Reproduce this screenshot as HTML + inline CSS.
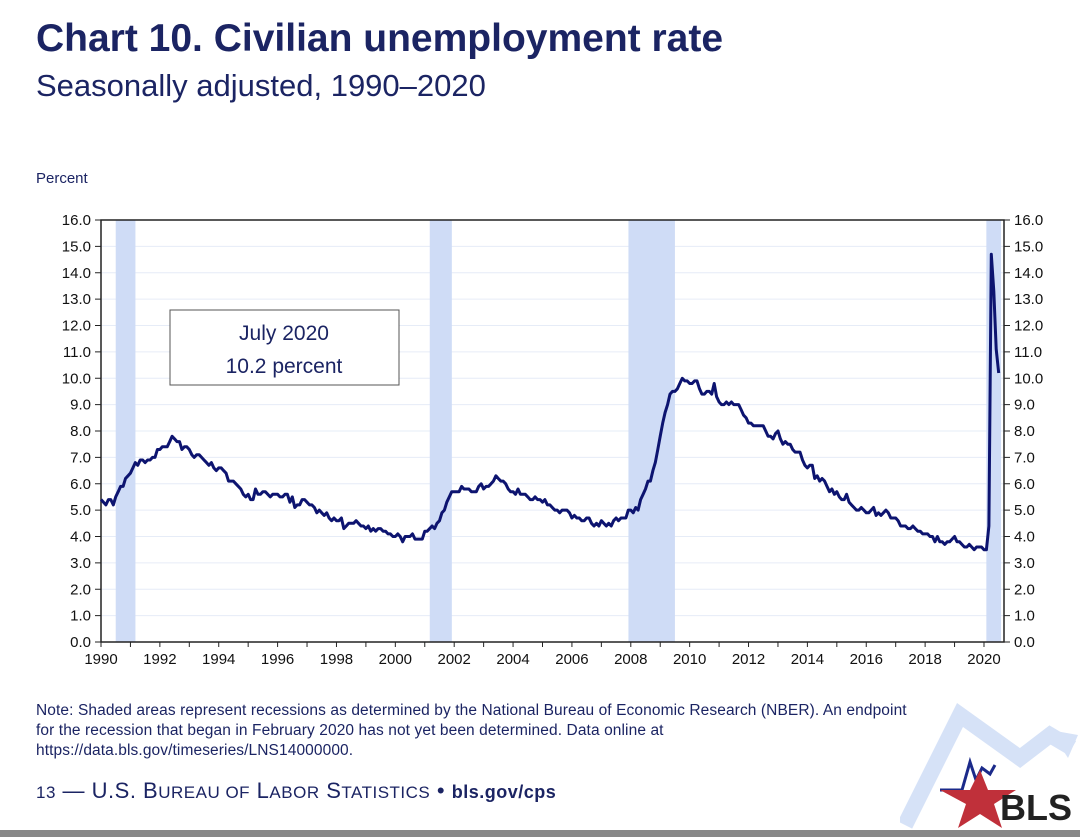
<!DOCTYPE html>
<html><head><meta charset="utf-8"><style>
body{margin:0;width:1080px;height:837px;background:#fff;overflow:hidden;font-family:"Liberation Sans","DejaVu Sans",sans-serif;position:relative}
.t{position:absolute;color:#1b2463;white-space:nowrap}
</style></head><body>
<svg width="180" height="140" style="position:absolute;left:900px;top:690px;overflow:hidden">
<polyline points="5,135 60,25 120,68 150,45 172,58" fill="none" stroke="#d6e2f7" stroke-width="16"/>
<polygon points="150,40 178,45 168,68" fill="#d6e2f7"/>
<polyline points="40,100 62,100 70,72 76,90 82,78 90,84 95,75" fill="none" stroke="#1b2a8a" stroke-width="3"/>
<polygon points="40,100 70,100 80,80 88,100 116,100 94,114 102,138 80,124 58,138 66,114" fill="#c0303a"/>
<text x="100" y="130" font-size="36" font-weight="bold" fill="#222" font-family="Liberation Sans,sans-serif">BLS</text>
</svg>
<div class="t" style="left:36px;top:17px;font-size:39px;font-weight:bold">Chart 10. Civilian unemployment rate</div>
<div class="t" style="left:36px;top:68px;font-size:31px">Seasonally adjusted, 1990–2020</div>
<div class="t" style="left:36px;top:170px;font-size:15px">Percent</div>
<svg id="ch" width="1080" height="700" style="position:absolute;left:0;top:0"></svg>
<div class="t" style="left:36px;top:701px;font-size:15.5px;line-height:20px;letter-spacing:0.1px">Note: Shaded areas represent recessions as determined by the National Bureau of Economic Research (NBER). An endpoint<br>for the recession that began in February 2020 has not yet been determined. Data online at<br>https://data.bls.gov/timeseries/LNS14000000.</div>
<div class="t" style="left:36px;top:778px;font-size:22px;letter-spacing:0.5px"><span style="font-size:17px">13</span> — U.S. B<span style="font-size:17px">UREAU OF</span> L<span style="font-size:17px">ABOR</span> S<span style="font-size:17px">TATISTICS</span> • <b style="font-size:18px">bls.gov/cps</b></div>
<div style="position:absolute;left:0;top:830px;width:1080px;height:7px;background:#888"></div>
<script>
const years=[];for(let y=1990;y<=2020;y+=2)years.push(y);
const yTicks=[0,1,2,3,4,5,6,7,8,9,10,11,12,13,14,15,16];
const recessions=[[1990.5,1991.17],[2001.17,2001.92],[2007.92,2009.5],[2020.08,2020.58]];
const rate=[5.4,5.3,5.2,5.4,5.4,5.2,5.5,5.7,5.9,5.9,6.2,6.3,
6.4,6.6,6.8,6.7,6.9,6.9,6.8,6.9,6.9,7.0,7.0,7.3,
7.3,7.4,7.4,7.4,7.6,7.8,7.7,7.6,7.6,7.3,7.4,7.4,
7.3,7.1,7.0,7.1,7.1,7.0,6.9,6.8,6.7,6.8,6.6,6.5,
6.6,6.6,6.5,6.4,6.1,6.1,6.1,6.0,5.9,5.8,5.6,5.5,
5.6,5.4,5.4,5.8,5.6,5.6,5.7,5.7,5.6,5.5,5.6,5.6,
5.6,5.5,5.5,5.6,5.6,5.3,5.5,5.1,5.2,5.2,5.4,5.4,
5.3,5.2,5.2,5.1,4.9,5.0,4.9,4.8,4.9,4.7,4.6,4.7,
4.6,4.6,4.7,4.3,4.4,4.5,4.5,4.5,4.6,4.5,4.4,4.4,
4.3,4.4,4.2,4.3,4.2,4.3,4.3,4.2,4.2,4.1,4.1,4.0,
4.0,4.1,4.0,3.8,4.0,4.0,4.0,4.1,3.9,3.9,3.9,3.9,
4.2,4.2,4.3,4.4,4.3,4.5,4.6,4.9,5.0,5.3,5.5,5.7,
5.7,5.7,5.7,5.9,5.8,5.8,5.8,5.7,5.7,5.7,5.9,6.0,
5.8,5.9,5.9,6.0,6.1,6.3,6.2,6.1,6.1,6.0,5.8,5.7,
5.7,5.6,5.8,5.6,5.6,5.6,5.5,5.4,5.4,5.5,5.4,5.4,
5.3,5.4,5.2,5.2,5.1,5.0,5.0,4.9,5.0,5.0,5.0,4.9,
4.7,4.8,4.7,4.7,4.6,4.6,4.7,4.7,4.5,4.4,4.5,4.4,
4.6,4.5,4.4,4.5,4.4,4.6,4.7,4.6,4.7,4.7,4.7,5.0,
5.0,4.9,5.1,5.0,5.4,5.6,5.8,6.1,6.1,6.5,6.8,7.3,
7.8,8.3,8.7,9.0,9.4,9.5,9.5,9.6,9.8,10.0,9.9,9.9,
9.8,9.8,9.9,9.9,9.6,9.4,9.4,9.5,9.5,9.4,9.8,9.3,
9.1,9.0,9.0,9.1,9.0,9.1,9.0,9.0,9.0,8.8,8.6,8.5,
8.3,8.3,8.2,8.2,8.2,8.2,8.2,8.0,7.8,7.8,7.7,7.9,
8.0,7.7,7.5,7.6,7.5,7.5,7.3,7.2,7.2,7.2,6.9,6.7,
6.6,6.7,6.7,6.2,6.3,6.1,6.2,6.1,5.9,5.7,5.8,5.6,
5.7,5.5,5.4,5.4,5.6,5.3,5.2,5.1,5.0,5.0,5.1,5.0,
4.9,4.9,5.0,5.1,4.8,4.9,4.8,4.9,5.0,4.9,4.7,4.7,
4.7,4.6,4.4,4.4,4.4,4.3,4.3,4.4,4.3,4.2,4.2,4.1,
4.1,4.1,4.0,4.0,3.8,4.0,3.8,3.8,3.7,3.8,3.8,3.9,
4.0,3.8,3.8,3.7,3.6,3.6,3.7,3.6,3.5,3.6,3.6,3.6,
3.5,3.5,4.4,14.7,13.3,11.1,10.2];
const L=101,R=1004,T=220,B=642,X0=1990,X1=2020.68;
const xs=v=>L+(v-X0)/(X1-X0)*(R-L);
const ys=v=>B-v/16*(B-T);
const svg=document.getElementById('ch');const NS='http://www.w3.org/2000/svg';
function mk(tag,at,name){const e=document.createElementNS(NS,tag);for(const k in at)e.setAttribute(k,at[k]);


svg.appendChild(e);return e;}
yTicks.forEach(v=>{
 if(v>0&&v<16)mk('line',{x1:L,x2:R,y1:ys(v),y2:ys(v),stroke:'#e6ecf7','stroke-width':1},'gridline');
});
recessions.forEach(r=>{mk('rect',{x:xs(r[0]),y:T,width:Math.min(xs(r[1]),R)-xs(r[0]),height:B-T,fill:'#cfdcf6'},'recession-band');});
mk('rect',{x:L,y:T,width:R-L,height:B-T,fill:'none',stroke:'#222','stroke-width':1.5},'plot-frame');
yTicks.forEach(v=>{
 mk('line',{x1:L-6,x2:L,y1:ys(v),y2:ys(v),stroke:'#222'},'y-tick-left');
 mk('line',{x1:R,x2:R+6,y1:ys(v),y2:ys(v),stroke:'#222'},'y-tick-right');
 const a=mk('text',{x:L-10,y:ys(v)+5,'text-anchor':'end','font-size':15,fill:'#111'},'y-tick-label-left');a.textContent=v.toFixed(1);
 const b=mk('text',{x:R+10,y:ys(v)+5,'font-size':15,fill:'#111'},'y-tick-label-right');b.textContent=v.toFixed(1);
});
for(let y=1990;y<=2020;y++){mk('line',{x1:xs(y),x2:xs(y),y1:B,y2:B+5,stroke:'#222'},'x-tick');}
years.forEach(y=>{const t=mk('text',{x:xs(y),y:B+22,'text-anchor':'middle','font-size':15,fill:'#111'},'x-tick-label');t.textContent=y;});
const pts=rate.map((v,i)=>xs(X0+i/12).toFixed(1)+','+ys(v).toFixed(1)).join(' ');
mk('polyline',{points:pts,fill:'none',stroke:'#0d1470','stroke-width':3,'stroke-linejoin':'round'},'unemployment-line');
mk('rect',{x:170,y:310,width:229,height:75,fill:'#fff',stroke:'#555'},'annotation-box');
const a1=mk('text',{x:284,y:340,'text-anchor':'middle','font-size':21,fill:'#1b2463'},'annotation-month');a1.textContent='July 2020';
const a2=mk('text',{x:284,y:373,'text-anchor':'middle','font-size':21,fill:'#1b2463'},'annotation-value');a2.textContent='10.2 percent';
</script>
</body></html>
